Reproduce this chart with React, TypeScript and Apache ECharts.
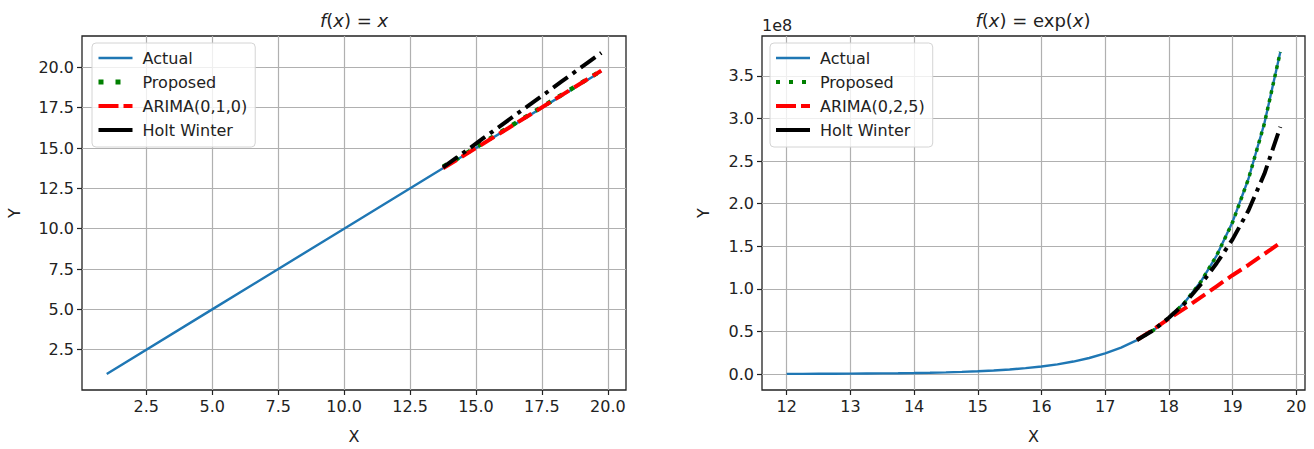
import React, { useEffect, useRef } from "react";
import * as echarts from "echarts";

// ---------- Left panel: f(x) = x ----------
const leftActualX = [1, 5, 10, 15, 19.75];
const leftActualY = [1, 5, 10, 15, 19.75];
const leftFcX = [13.75, 14.25, 14.75, 15.25, 15.75, 16.25, 16.75, 17.25, 17.75, 18.25, 18.75, 19.25, 19.75];
const leftProposed = [13.85, 14.3, 14.8, 15.3, 15.8, 16.3, 16.8, 17.3, 17.8, 18.3, 18.8, 19.3, 19.8];
const leftArima = [13.75, 14.25, 14.75, 15.25, 15.76, 16.26, 16.77, 17.27, 17.78, 18.28, 18.79, 19.29, 19.8];
const leftHolt = [13.8, 14.39, 14.98, 15.58, 16.17, 16.76, 17.35, 17.94, 18.53, 19.13, 19.72, 20.31, 20.9];
const leftXTicks = [2.5, 5, 7.5, 10, 12.5, 15, 17.5, 20];
const leftYTicks = [2.5, 5, 7.5, 10, 12.5, 15, 17.5, 20];

// ---------- Right panel: f(x) = exp(x), values in units of 1e8 ----------
const rightActualX = [12, 12.25, 12.5, 12.75, 13, 13.25, 13.5, 13.75, 14, 14.25, 14.5, 14.75, 15, 15.25, 15.5, 15.75, 16, 16.25, 16.5, 16.75, 17, 17.25, 17.5, 17.75, 18, 18.25, 18.5, 18.75, 19, 19.25, 19.5, 19.75];
const rightActualY = [0.0016, 0.0021, 0.0027, 0.0034, 0.0044, 0.0057, 0.0073, 0.0094, 0.012, 0.0154, 0.0198, 0.0254, 0.0327, 0.0419, 0.0539, 0.0692, 0.0889, 0.1141, 0.1466, 0.1882, 0.2415, 0.3101, 0.3982, 0.5113, 0.6566, 0.8431, 1.0826, 1.3901, 1.7848, 2.2918, 2.9427, 3.7786];
const rightFcX = [17.5, 17.75, 18, 18.25, 18.5, 18.75, 19, 19.25, 19.5, 19.75];
const rightProposed = [0.4, 0.51, 0.66, 0.84, 1.08, 1.39, 1.78, 2.29, 2.94, 3.78];
const rightArima = [0.4, 0.52, 0.65, 0.77, 0.9, 1.03, 1.16, 1.28, 1.41, 1.54];
const rightHolt = [0.4, 0.51, 0.66, 0.83, 1.05, 1.3, 1.58, 1.92, 2.35, 2.9];
const rightXTicks = [12, 13, 14, 15, 16, 17, 18, 19, 20];
const rightYTicks = [0, 0.5, 1, 1.5, 2, 2.5, 3, 3.5];

const FONT = "DejaVu Sans";
const TXT = "#222";

const pairs = (xs: number[], ys: number[]) => xs.map((x, i) => [x, ys[i]]);

const valueAxis = (gridIndex: number, ticks: number[], min: number, max: number, fmt: (v: number) => string, name: string, isY: boolean, nameGap: number) => ({
  type: "value",
  gridIndex,
  min,
  max,
  name,
  nameLocation: "middle",
  nameGap,
  nameRotate: isY ? 90 : 0,
  nameTextStyle: { fontFamily: FONT, fontSize: 16, color: TXT },
  axisLine: { show: false, onZero: false },
  axisTick: { show: true, inside: false, length: 5, customValues: ticks, lineStyle: { color: TXT, width: 1.2 } },
  axisLabel: { show: true, customValues: ticks, formatter: fmt, color: TXT, fontSize: 16, fontFamily: FONT, margin: 8 },
  splitLine: { show: true, lineStyle: { color: "#b0b0b0", width: 1.2 } },
});

const fmt1 = (v: number) => v.toFixed(1);
const fmt0 = (v: number) => v.toFixed(0);

const legendBase = {
  orient: "vertical",
  itemWidth: 34,
  itemHeight: 16,
  itemGap: 8,
  padding: [7, 8, 9, 4],
  backgroundColor: "rgba(255,255,255,0.8)",
  borderColor: "#d4d4d4",
  borderWidth: 1,
  borderRadius: 4,
  itemStyle: { opacity: 0, color: "transparent", borderWidth: 0 },
  textStyle: { fontFamily: FONT, fontSize: 16, color: TXT, padding: [0, 0, 0, 5] },
  formatter: (n: string) => n.slice(2),
};

const legendItem = (name: string, color: string, width: number, type: any) => ({
  name,
  itemStyle: { opacity: 0, color: "transparent", borderWidth: 0 },
  lineStyle: { color, width, type, cap: "butt", opacity: 1 },
});

const lineSeries = (name: string, idx: number, data: number[][], color: string, width: number, type: any, z: number) => ({
  type: "line",
  name,
  xAxisIndex: idx,
  yAxisIndex: idx,
  data,
  symbol: "none",
  z,
  lineStyle: { color, width, type, cap: "butt" },
  itemStyle: { color },
});

const titleRich = {
  i: { fontFamily: FONT, fontStyle: "italic", fontSize: 18, fill: TXT },
  n: { fontFamily: FONT, fontSize: 18, fill: TXT },
};

export default function App() {
  const ref = useRef<HTMLDivElement>(null);
  useEffect(() => {
    if (!ref.current) return;
    const chart = echarts.init(ref.current, undefined, { renderer: "svg" });
    const option: any = {
      animation: false,
      backgroundColor: "#fff",
      grid: [
        { left: 82, top: 36, width: 544, height: 354, show: true, borderColor: TXT, borderWidth: 1.3, backgroundColor: "transparent" },
        { left: 762, top: 36, width: 543, height: 354, show: true, borderColor: TXT, borderWidth: 1.3, backgroundColor: "transparent" },
      ],
      xAxis: [
        valueAxis(0, leftXTicks, 0.0625, 20.6875, fmt1, "X", false, 38),
        valueAxis(1, rightXTicks, 11.6125, 20.1375, fmt0, "X", false, 38),
      ],
      yAxis: [
        valueAxis(0, leftYTicks, 0.0025, 21.9475, fmt1, "Y", true, 60),
        valueAxis(1, rightYTicks, -0.1873, 3.967, fmt1, "Y", true, 51),
      ],
      legend: [
        {
          ...legendBase,
          left: 92,
          top: 43,
          data: [
            legendItem("L:Actual", "#1f77b4", 2.5, "solid"),
            legendItem("L:Proposed", "#008000", 5, [5, 12]),
            legendItem("L:ARIMA(0,1,0)", "#ff0000", 4, [20, 5]),
            legendItem("L:Holt Winter", "#000000", 4, "solid"),
          ],
        },
        {
          ...legendBase,
          left: 770,
          top: 43,
          data: [
            legendItem("R:Actual", "#1f77b4", 2.5, "solid"),
            legendItem("R:Proposed", "#008000", 4, [4, 9]),
            legendItem("R:ARIMA(0,2,5)", "#ff0000", 4, [20, 5]),
            legendItem("R:Holt Winter", "#000000", 4, "solid"),
          ],
        },
      ],
      graphic: [
        {
          type: "text",
          x: 354,
          y: 20,
          style: { text: "{i|f}{n|(}{i|x}{n|) = }{i|x}", textAlign: "center", textVerticalAlign: "middle", rich: titleRich },
        },
        {
          type: "text",
          x: 1033,
          y: 20,
          style: { text: "{i|f}{n|(}{i|x}{n|) = exp(}{i|x}{n|)}", textAlign: "center", textVerticalAlign: "middle", rich: titleRich },
        },
        {
          type: "text",
          x: 762,
          y: 33,
          style: { text: "1e8", fontFamily: FONT, fontSize: 16, fill: TXT, textVerticalAlign: "bottom" },
        },
      ],
      series: [
        lineSeries("L:Actual", 0, pairs(leftActualX, leftActualY), "#1f77b4", 2.4, "solid", 2),
        lineSeries("L:Proposed", 0, pairs(leftFcX, leftProposed), "#008000", 4.5, [4.5, 9], 3),
        lineSeries("L:ARIMA(0,1,0)", 0, pairs(leftFcX, leftArima), "#ff0000", 4, [16, 6], 4),
        lineSeries("L:Holt Winter", 0, pairs(leftFcX, leftHolt), "#000000", 4, [18, 6, 4, 6], 5),
        lineSeries("R:Actual", 1, pairs(rightActualX, rightActualY), "#1f77b4", 2.4, "solid", 2),
        lineSeries("R:Proposed", 1, pairs(rightFcX, rightProposed), "#008000", 3.5, [3.5, 5], 3),
        lineSeries("R:ARIMA(0,2,5)", 1, pairs(rightFcX, rightArima), "#ff0000", 4, [16, 6], 4),
        lineSeries("R:Holt Winter", 1, pairs(rightFcX, rightHolt), "#000000", 4, [18, 6, 4, 6], 5),
      ],
    };
    chart.setOption(option);
    return () => chart.dispose();
  }, []);
  return <div ref={ref} style={{ position: "absolute", left: 0, top: 0, width: 1314, height: 449 }} />;
}
